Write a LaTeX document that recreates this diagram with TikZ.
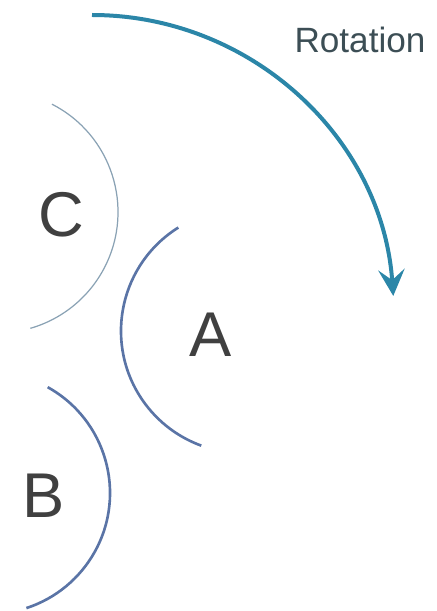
\documentclass[tikz,border=0pt]{standalone}
\usepackage{fontspec}
\setmainfont{Liberation Sans}
\usepackage{tikz}
\usetikzlibrary{arrows.meta}
\definecolor{spinblue}{HTML}{2B86A8}
\definecolor{rimdark}{HTML}{5A74A6}
\definecolor{rimlight}{HTML}{8AA2B4}
\definecolor{inkgray}{HTML}{404040}

\begin{document}
\begin{tikzpicture}[x=0.02cm,y=0.02cm,
  letter/.style={text=inkgray,inner sep=0pt,font=\fontsize{36}{36}\selectfont},
  rim/.style={rimdark,line width=1.5pt}]
 \useasboundingbox (0,0) rectangle (436,-611);
 % rotation arrow
 \coordinate (spinc) at (92,-317);
 \draw[spinblue,line width=0.08cm,-{Stealth[length=15pt,width=15pt,inset=6pt]}]
   (spinc) ++(90:302) arc[start angle=90,end angle=4,radius=302];
 \node[text=inkgray!80!spinblue,font=\fontsize{20}{20}\selectfont] (rotlbl) at (360,-40) {Rotation};
 % rims of the three bodies
 \coordinate (cc) at (-3,-212);
 \coordinate (ac) at (243,-331);
 \coordinate (bc) at (-11,-493);
 \draw[rimlight,line width=0.7pt] (cc) ++(63:121) arc[start angle=63,end angle=-74,radius=121];
 \draw[rim] (ac) ++(122:122) arc[start angle=122,end angle=250,radius=122];
 \draw[rim] (bc) ++(61:121) arc[start angle=61,end angle=-72,radius=121];
 \node[letter] (lblC) at (61,-215) {C};
 \node[letter] (lblA) at (211,-335) {A};
 \node[letter] (lblB) at (44,-496) {B};
\end{tikzpicture}
\end{document}
